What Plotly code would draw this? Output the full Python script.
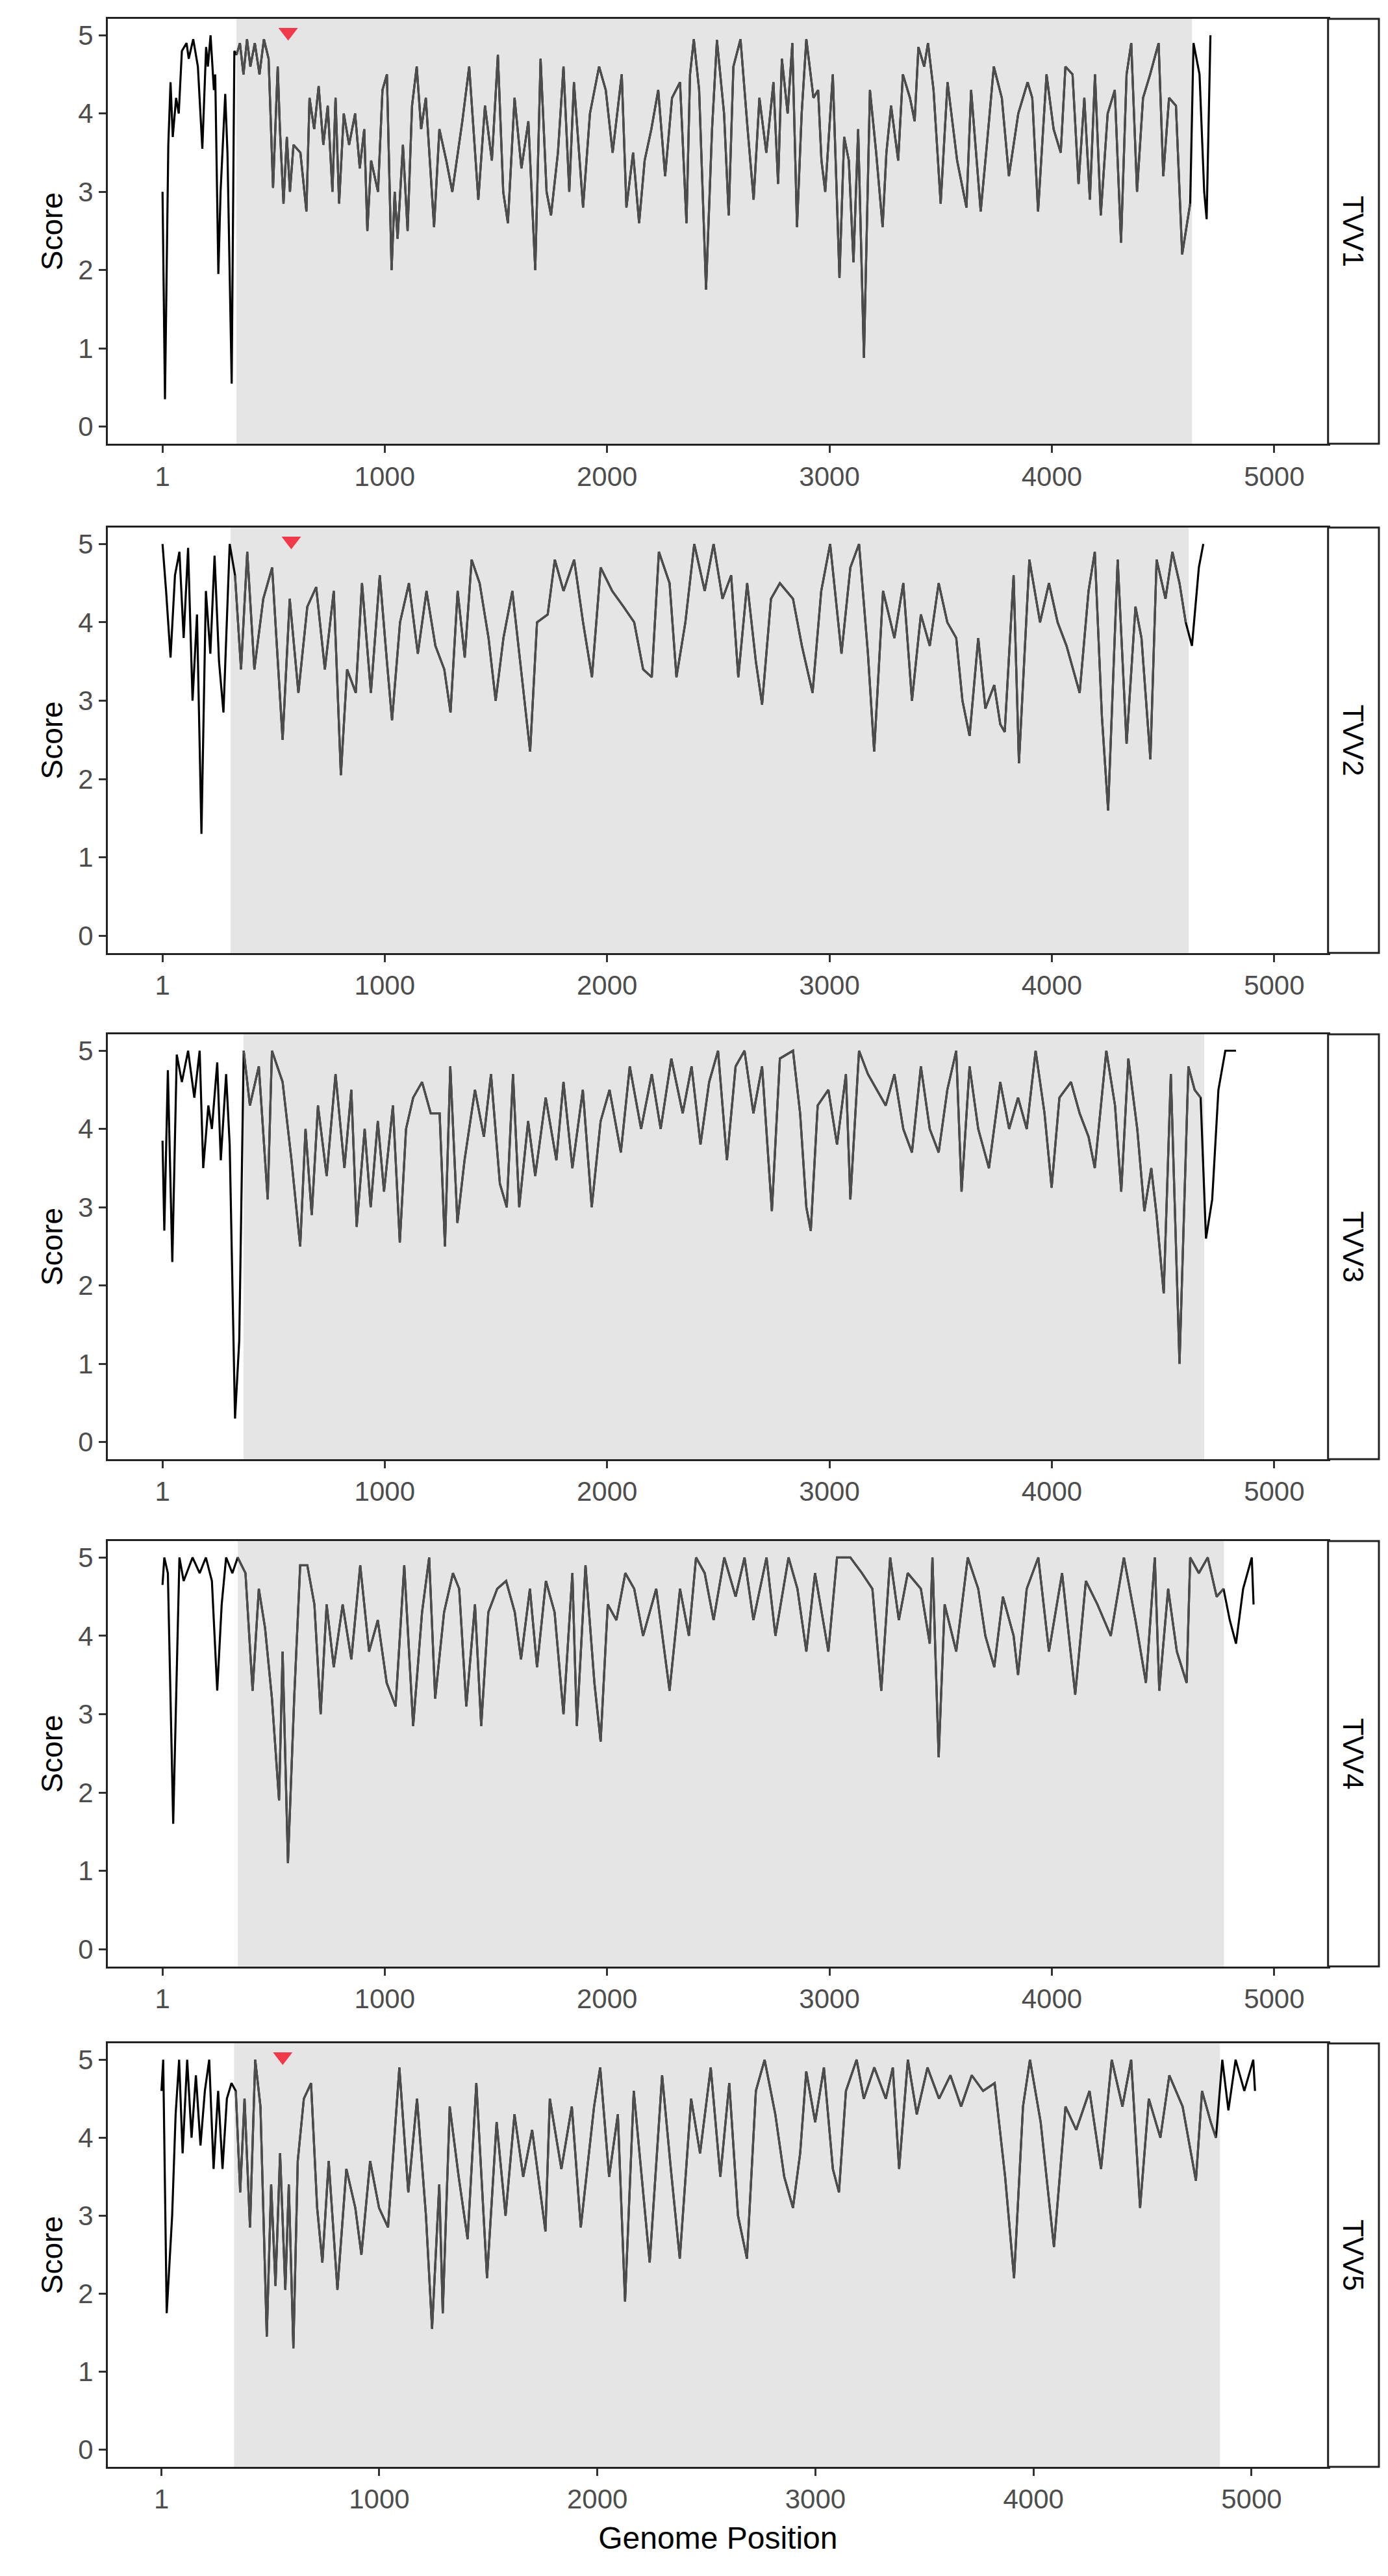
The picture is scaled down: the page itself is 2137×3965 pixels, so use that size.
import plotly.graph_objects as go

# panel names and data (position, score)
panels = ['TVV1', 'TVV2', 'TVV3', 'TVV4', 'TVV5']

tvv1_pos = [1, 12, 27, 37, 47, 62, 74, 88, 109, 119, 139, 160, 180, 197, 205, 217, 232, 238, 252, 262, 283, 293, 312, 324,
            334, 349, 365, 381, 396, 416, 437, 457, 478, 498, 519, 529, 545, 560, 574, 590, 621, 648, 662, 683, 703, 724, 744,
            765, 779, 795, 816, 840, 867, 888, 908, 922, 939, 970, 990, 1010, 1031, 1045, 1058, 1082, 1103, 1123, 1144, 1164,
            1185, 1222, 1246, 1277, 1304, 1328, 1349, 1380, 1421, 1451, 1482, 1509, 1533, 1554, 1584, 1615, 1646, 1677, 1701,
            1728, 1748, 1779, 1804, 1830, 1851, 1892, 1923, 1964, 1994, 2025, 2066, 2087, 2117, 2144, 2169, 2199, 2230, 2261,
            2292, 2328, 2357, 2373, 2390, 2414, 2445, 2472, 2494, 2526, 2547, 2568, 2600, 2632, 2659, 2685, 2716, 2748, 2769,
            2786, 2812, 2833, 2854, 2875, 2896, 2928, 2949, 2964, 2981, 3015, 3045, 3066, 3087, 3108, 3129, 3155, 3182, 3210,
            3239, 3256, 3277, 3309, 3330, 3362, 3383, 3400, 3426, 3443, 3468, 3500, 3531, 3574, 3616, 3637, 3680, 3711, 3739,
            3775, 3807, 3849, 3891, 3912, 3938, 3976, 4008, 4040, 4061, 4093, 4120, 4146, 4171, 4194, 4220, 4251, 4283, 4311,
            4336, 4357, 4383, 4410, 4442, 4480, 4501, 4527, 4558, 4586, 4622, 4637, 4664, 4685, 4696, 4713]
tvv1_score = [3.0, 0.35, 3.6, 4.4, 3.7, 4.2, 4.0, 4.8, 4.9, 4.7, 4.95, 4.6, 3.55, 4.85, 4.6, 5.0, 4.3, 4.5, 1.95, 3.0, 4.25, 3.5, 0.55, 4.8,
              4.75, 4.9, 4.5, 4.95, 4.6, 4.9, 4.5, 4.95, 4.7, 3.05, 4.6, 3.8, 2.85, 3.7, 3.0, 3.6, 3.5, 2.75, 4.2, 3.8, 4.35, 3.6, 4.1,
              3.0, 4.2, 2.85, 4.0, 3.6, 4.0, 3.3, 3.8, 2.5, 3.4, 3.0, 4.3, 4.5, 2.0, 3.0, 2.4, 3.6, 2.5, 4.1, 4.6, 3.8,
              4.2, 2.55, 3.8, 3.4, 3.0, 3.5, 3.9, 4.6, 2.9, 4.1, 3.4, 4.75, 3.0, 2.6, 4.2, 3.3, 3.9, 2.0, 4.7,
              3.0, 2.7, 3.5, 4.6, 3.0, 4.4, 2.8, 4.0, 4.6, 4.3, 3.5, 4.5, 2.8, 3.5, 2.6, 3.4, 3.8, 4.3, 3.2,
              4.2, 4.4, 2.6, 4.5, 4.95, 4.3, 1.75, 3.8, 4.94, 4.0, 2.7, 4.6, 4.95, 3.8, 2.9, 4.2, 3.5, 4.4, 3.1,
              4.7, 4.0, 4.9, 2.55, 4.0, 4.95, 4.2, 4.3, 3.4, 3.0, 4.5, 1.9, 3.7, 3.4, 2.1, 3.8, 0.88, 4.3, 3.5,
              2.55, 3.5, 4.1, 3.4, 4.5, 4.2, 3.9, 4.85, 4.6, 4.9, 4.3, 2.85, 4.4, 3.4, 2.8, 4.3, 2.75, 3.7, 4.6,
              4.2, 3.2, 4.0, 4.4, 4.2, 2.75, 4.5, 3.8, 3.5, 4.6, 4.5, 3.1, 4.2, 2.9, 4.5, 2.7, 4.0, 4.3, 2.35,
              4.5, 4.9, 3.0, 4.2, 4.5, 4.9, 3.2, 4.2, 4.1, 2.2, 2.85, 4.9, 4.5, 3.0, 2.65, 5.0]

tvv2_pos = [1, 17, 37, 57, 77, 96, 116, 136, 156, 176, 196, 216, 235, 255, 275, 303, 327, 354, 382, 414, 454, 494, 513, 541,
            573, 612, 652, 692, 731, 771, 803, 831, 870, 898, 938, 978, 1010, 1033, 1069, 1109, 1149, 1188, 1228, 1268, 1296,
            1328, 1360, 1391, 1427, 1467, 1499, 1534, 1574, 1606, 1654, 1685, 1733, 1765, 1804, 1852, 1892, 1932, 1971, 2023,
            2074, 2122, 2162, 2201, 2233, 2281, 2312, 2352, 2392, 2439, 2479, 2519, 2558, 2590, 2630, 2669, 2697, 2737, 2777,
            2836, 2876, 2924, 2963, 3003, 3054, 3094, 3133, 3173, 3201, 3241, 3292, 3332, 3371, 3411, 3451, 3491, 3530, 3570,
            3598, 3630, 3669, 3701, 3741, 3768, 3788, 3828, 3852, 3899, 3947, 3987, 4026, 4066, 4125, 4165, 4193, 4225, 4253,
            4296, 4336, 4376, 4403, 4443, 4471, 4511, 4542, 4574, 4602, 4630, 4661, 4681]
tvv2_score = [5.0, 4.4, 3.55, 4.6, 4.9, 3.8, 4.95, 3.0, 4.1, 1.3, 4.4, 3.6, 4.85, 3.5, 2.85, 5.0, 4.6, 3.4, 4.9, 3.4, 4.3, 4.7, 3.8, 2.5,
              4.3, 3.1, 4.2, 4.45, 3.4, 4.4, 2.05, 3.4, 3.1, 4.5, 3.1, 4.6, 3.5, 2.75, 4.0, 4.5, 3.6, 4.4, 3.7, 3.4, 2.85,
              4.4, 3.55, 4.8, 4.5, 3.8, 3.0, 3.8, 4.4, 3.6, 2.35, 4.0, 4.1, 4.8, 4.4, 4.8, 4.0, 3.3, 4.7, 4.4,
              4.2, 4.0, 3.4, 3.3, 4.9, 4.5, 3.3, 4.0, 5.0, 4.4, 5.0, 4.3, 4.6, 3.3, 4.5, 3.5, 2.95, 4.3, 4.5,
              4.3, 3.7, 3.1, 4.4, 5.0, 3.6, 4.7, 5.0, 3.6, 2.35, 4.4, 3.8, 4.5, 3.0, 4.1, 3.7, 4.5, 4.0, 3.8,
              3.0, 2.55, 3.8, 2.9, 3.2, 2.7, 2.6, 4.6, 2.2, 4.8, 4.0, 4.5, 4.0, 3.7, 3.1, 4.4, 4.9, 2.8, 1.6,
              4.8, 2.45, 4.2, 3.8, 2.25, 4.8, 4.3, 4.9, 4.5, 4.0, 3.7, 4.7, 5.0]

tvv3_pos = [1, 9, 25, 45, 65, 88, 116, 144, 168, 184, 207, 223, 247, 263, 287, 303, 327, 346, 366, 394, 434, 474, 493, 541,
            581, 620, 644, 672, 700, 739, 779, 819, 850, 874, 910, 937, 969, 997, 1037, 1068, 1096, 1128, 1168, 1207, 1247,
            1271, 1295, 1327, 1359, 1406, 1446, 1478, 1518, 1549, 1577, 1605, 1645, 1677, 1724, 1772, 1804, 1844, 1891, 1931,
            1971, 2011, 2062, 2102, 2153, 2201, 2241, 2289, 2340, 2380, 2420, 2459, 2499, 2539, 2578, 2618, 2658, 2697, 2741,
            2777, 2836, 2868, 2896, 2916, 2947, 2995, 3034, 3074, 3094, 3133, 3173, 3213, 3253, 3292, 3332, 3371, 3411, 3451,
            3491, 3530, 3570, 3594, 3630, 3669, 3717, 3768, 3808, 3848, 3887, 3927, 3967, 3999, 4034, 4086, 4125, 4165, 4193,
            4245, 4284, 4312, 4344, 4384, 4416, 4447, 4471, 4503, 4535, 4574, 4614, 4642, 4669, 4693, 4721, 4749, 4780, 4828]
tvv3_score = [3.85, 2.7, 4.75, 2.3, 4.95, 4.6, 5.0, 4.4, 5.0, 3.5, 4.3, 4.0, 4.85, 3.6, 4.7, 3.8, 0.3, 1.3, 5.0, 4.3, 4.8, 3.1, 5.0, 4.6,
              3.6, 2.5, 4.0, 2.9, 4.3, 3.4, 4.7, 3.5, 4.5, 2.75, 4.0, 3.0, 4.1, 3.2, 4.3, 2.55, 4.0, 4.4, 4.6, 4.2, 4.2,
              2.5, 4.8, 2.8, 3.6, 4.5, 3.9, 4.7, 3.3, 3.0, 4.7, 3.0, 4.1, 3.4, 4.4, 3.6, 4.6, 3.5, 4.5, 3.0,
              4.1, 4.5, 3.7, 4.8, 4.0, 4.7, 4.0, 4.9, 4.2, 4.8, 3.8, 4.6, 5.0, 3.6, 4.8, 5.0, 4.2, 4.8, 2.95,
              4.9, 5.0, 4.2, 3.0, 2.7, 4.3, 4.5, 3.8, 4.7, 3.1, 5.0, 4.7, 4.5, 4.3, 4.7, 4.0, 3.7, 4.8, 4.0,
              3.7, 4.5, 5.0, 3.2, 4.8, 4.0, 3.5, 4.6, 4.0, 4.4, 4.0, 5.0, 4.2, 3.25, 4.4, 4.6, 4.2, 3.9, 3.5,
              5.0, 4.3, 3.2, 4.9, 4.0, 2.95, 3.5, 2.9, 1.9, 4.7, 1.0, 4.8, 4.5, 4.4, 2.6, 3.1, 4.5, 5.0, 5.0]

tvv4_pos = [1, 9, 25, 49, 77, 96, 136, 168, 196, 223, 247, 267, 287, 315, 339, 374, 406, 434, 462, 493, 525, 541, 565, 593,
            620, 652, 684, 712, 739, 771, 811, 850, 890, 930, 969, 1009, 1049, 1088, 1128, 1168, 1200, 1227, 1267, 1307, 1335,
            1367, 1406, 1434, 1466, 1506, 1546, 1585, 1613, 1653, 1685, 1725, 1764, 1804, 1844, 1864, 1903, 1943, 1971, 2003,
            2042, 2082, 2122, 2162, 2221, 2281, 2328, 2368, 2400, 2439, 2479, 2527, 2578, 2618, 2658, 2717, 2757, 2816, 2856,
            2896, 2935, 2995, 3034, 3094, 3146, 3193, 3233, 3273, 3312, 3352, 3411, 3451, 3463, 3491, 3518, 3570, 3622, 3669,
            3701, 3741, 3780, 3828, 3848, 3887, 3939, 3987, 4046, 4105, 4153, 4205, 4265, 4324, 4376, 4423, 4463, 4483, 4523,
            4562, 4606, 4622, 4661, 4701, 4741, 4772, 4800, 4828, 4860, 4899, 4907]
tvv4_score = [4.65, 5.0, 4.8, 1.6, 5.0, 4.7, 5.0, 4.8, 5.0, 4.7, 3.3, 4.4, 5.0, 4.8, 5.0, 4.8, 3.3, 4.6, 4.1, 3.2, 1.9, 3.8, 1.1, 3.2,
              4.9, 4.9, 4.4, 3.0, 4.4, 3.6, 4.4, 3.7, 4.9, 3.8, 4.2, 3.4, 3.1, 4.9, 2.85, 4.3, 5.0, 3.2, 4.3, 4.8, 4.6,
              3.1, 4.4, 2.85, 4.3, 4.6, 4.7, 4.3, 3.7, 4.6, 3.6, 4.7, 4.3, 3.0, 4.8, 2.85, 4.9, 3.4, 2.65, 4.4,
              4.2, 4.8, 4.6, 4.0, 4.6, 3.3, 4.6, 4.0, 5.0, 4.8, 4.2, 5.0, 4.5, 5.0, 4.2, 5.0, 4.0, 5.0, 4.6,
              3.8, 4.8, 3.8, 5.0, 5.0, 4.8, 4.6, 3.3, 5.0, 4.2, 4.8, 4.6, 3.9, 5.0, 2.45, 4.4, 3.8, 5.0, 4.6,
              4.0, 3.6, 4.5, 4.0, 3.5, 4.6, 5.0, 3.8, 4.8, 3.25, 4.7, 4.4, 4.0, 5.0, 4.2, 3.4, 5.0, 3.3, 4.6,
              3.8, 3.4, 5.0, 4.8, 5.0, 4.5, 4.6, 4.2, 3.9, 4.6, 5.0, 4.4]

tvv5_pos = [1, 9, 25, 50, 66, 82, 98, 119, 139, 159, 180, 200, 220, 240, 261, 281, 301, 322, 342, 362, 382, 407, 431, 455,
            484, 504, 524, 545, 569, 585, 606, 626, 654, 687, 715, 739, 768, 808, 849, 890, 918, 958, 999, 1040, 1092, 1133,
            1173, 1214, 1242, 1275, 1291, 1323, 1364, 1405, 1445, 1494, 1538, 1579, 1620, 1660, 1701, 1762, 1782, 1835, 1883,
            1924, 1985, 2013, 2054, 2094, 2127, 2167, 2200, 2240, 2297, 2337, 2378, 2430, 2471, 2520, 2564, 2605, 2645, 2686,
            2727, 2767, 2816, 2857, 2897, 2930, 2958, 2999, 3039, 3080, 3108, 3140, 3189, 3222, 3270, 3323, 3355, 3384, 3424,
            3465, 3514, 3567, 3619, 3668, 3717, 3769, 3822, 3870, 3911, 3952, 3984, 4033, 4094, 4147, 4196, 4257, 4310, 4359,
            4408, 4448, 4489, 4529, 4582, 4623, 4684, 4745, 4773, 4813, 4837, 4866, 4894, 4927, 4967, 5008, 5016]
tvv5_score = [4.6, 5.0, 1.75, 3.0, 4.3, 5.0, 3.8, 5.0, 4.0, 4.8, 3.9, 4.6, 5.0, 3.6, 4.6, 3.6, 4.5, 4.7, 4.6, 3.3, 4.5, 2.85, 5.0, 4.4,
              1.45, 3.4, 2.1, 3.8, 2.05, 3.4, 1.3, 3.7, 4.5, 4.7, 3.1, 2.4, 3.7, 2.05, 3.6, 3.1, 2.5, 3.7, 3.1, 2.85, 4.9, 3.3,
              4.5, 3.0, 1.55, 3.4, 1.75, 4.4, 3.5, 2.7, 4.7, 2.2, 4.2, 3.0, 4.3, 3.5, 4.1, 2.8, 4.5, 3.6, 4.4,
              2.85, 4.4, 4.9, 3.5, 4.3, 1.9, 4.6, 3.6, 2.4, 4.8, 3.6, 2.45, 4.5, 3.8, 4.9, 3.5, 4.7, 3.0, 2.45,
              4.6, 5.0, 4.3, 3.5, 3.1, 3.8, 4.85, 4.2, 4.9, 3.6, 3.3, 4.6, 5.0, 4.5, 4.9, 4.5, 4.9, 3.6, 5.0,
              4.3, 4.9, 4.5, 4.8, 4.4, 4.8, 4.6, 4.7, 3.5, 2.2, 4.4, 5.0, 4.2, 2.6, 4.4, 4.1, 4.6, 3.6, 5.0,
              4.4, 5.0, 3.1, 4.5, 4.0, 4.8, 4.4, 3.45, 4.6, 4.2, 4.0, 5.0, 4.35, 5.0, 4.6, 5.0, 4.6]

positions = [tvv1_pos, tvv2_pos, tvv3_pos, tvv4_pos, tvv5_pos]
scores = [tvv1_score, tvv2_score, tvv3_score, tvv4_score, tvv5_score]

# shaded coding region per panel
region_start = [333, 307, 365, 339, 334]
region_end = [4630, 4615, 4685, 4774, 4855]

# red markers
marker_pos = [566, 580, None, None, 557]

x_max = [5242, 5242, 5242, 5242, 5351]

domains = [[0.8264, 1.0], [0.6184, 0.7922], [0.4116, 0.5852], [0.2044, 0.3782], [0.0, 0.1730]]
x_right = 0.960

fig = go.Figure()
shapes = []
annotations = []

for i, name in enumerate(panels):
    n = i + 1
    xa = 'x' if n == 1 else f'x{n}'
    ya = 'y' if n == 1 else f'y{n}'
    xs, ys = positions[i], scores[i]

    # whole line in black, then the part inside the region in dark grey on top
    fig.add_trace(go.Scatter(x=xs, y=ys, mode='lines', line=dict(color='black', width=3.2),
                             xaxis=xa, yaxis=ya, showlegend=False, hoverinfo='skip'))
    inside = [(p, s) for p, s in zip(xs, ys) if region_start[i] <= p <= region_end[i]]
    fig.add_trace(go.Scatter(x=[p for p, _ in inside], y=[s for _, s in inside], mode='lines',
                             line=dict(color='#4d4d4d', width=3.2),
                             xaxis=xa, yaxis=ya, showlegend=False, hoverinfo='skip'))
    if marker_pos[i] is not None:
        fig.add_trace(go.Scatter(x=[marker_pos[i]], y=[5.04], mode='markers',
                                 marker=dict(symbol='triangle-down', size=26, color='#f0394b'),
                                 xaxis=xa, yaxis=ya, showlegend=False, hoverinfo='skip'))

    shapes.append(dict(type='rect', xref=xa, yref=f'{ya} domain', x0=region_start[i], x1=region_end[i],
                       y0=0, y1=1, fillcolor='#e5e5e5', line_width=0, layer='below'))
    # facet strip
    shapes.append(dict(type='rect', xref='paper', yref='paper', x0=x_right, x1=1.0,
                       y0=domains[i][0], y1=domains[i][1], line=dict(color='#222', width=3),
                       fillcolor='white'))
    annotations.append(dict(text=name, xref='paper', yref='paper', x=(x_right + 1.0) / 2,
                            y=(domains[i][0] + domains[i][1]) / 2, showarrow=False, textangle=90,
                            xanchor='center', yanchor='middle',
                            font=dict(size=44, color='black', family='Liberation Sans')))

    axis_common = dict(showgrid=False, zeroline=False, showline=True, mirror=True,
                       linecolor='#222', linewidth=3, ticks='outside', ticklen=11, tickwidth=3,
                       tickcolor='#333', tickfont=dict(size=42, color='#4d4d4d'))
    fig.layout[f'xaxis{"" if n == 1 else n}'] = dict(
        axis_common, domain=[0, x_right], anchor=ya, range=[-245, x_max[i]],
        tickvals=[1, 1000, 2000, 3000, 4000, 5000], ticktext=['1', '1000', '2000', '3000', '4000', '5000'])
    fig.layout[f'yaxis{"" if n == 1 else n}'] = dict(
        axis_common, domain=domains[i], anchor=xa, range=[-0.22, 5.21],
        tickvals=[0, 1, 2, 3, 4, 5],
        title=dict(text='Score', font=dict(size=46, color='black'), standoff=10))

fig.layout.xaxis5.title = dict(text='Genome Position', font=dict(size=48, color='black'), standoff=20)

fig.update_layout(
    width=2137, height=3965,
    margin=dict(l=158, r=22, t=21, b=176),
    paper_bgcolor='white', plot_bgcolor='white',
    font=dict(family='Liberation Sans'),
    shapes=shapes, annotations=annotations,
)

fig.write_html('out.html')
